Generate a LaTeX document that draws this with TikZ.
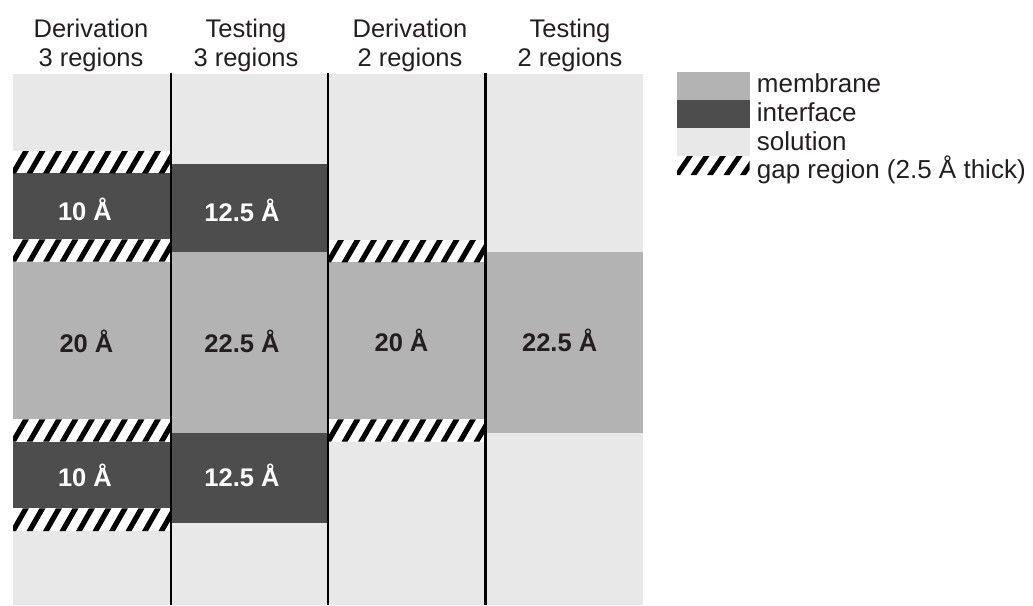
\documentclass[tikz,border=0pt]{standalone}
\usepackage{fontspec}
\setmainfont{Liberation Sans}
\definecolor{solution}{HTML}{E8E8E8}
\definecolor{membrane}{HTML}{B3B3B3}
\definecolor{interface}{HTML}{4D4D4D}
\definecolor{ink}{HTML}{231F20}

% striped band marking a 2.5 A gap: #1,#2 = top-left corner, #3,#4 = bottom-right corner
\newcommand\gapband[4]{%
  \begin{scope}
    \clip (#1,#2) rectangle (#3,#4);
    \fill[white] (#1,#2) rectangle (#3,#4);
    \foreach \k in {-1,...,11} {
      \fill[black] ({#1+10+16.5*\k},#2) -- ++(6,0) -- ({#1+10+16.5*\k-7},#4) -- ++(-6,0) -- cycle;
    }
  \end{scope}}

\tikzset{
  headtext/.style={anchor=base, inner sep=0pt, text=ink, font=\fontsize{25.5}{29}\selectfont},
  sizelight/.style={anchor=base, inner sep=0pt, text=white, font=\fontsize{25.5}{29}\selectfont\bfseries},
  sizedark/.style={anchor=base, inner sep=0pt, text=ink, font=\fontsize{25.5}{29}\selectfont\bfseries},
  legendtext/.style={anchor=base west, inner sep=0pt, text=ink, font=\fontsize{26}{29}\selectfont},
  divider/.style={draw=black, line width=2.3pt}
}

\begin{document}
\begin{tikzpicture}[x=1pt,y=-1pt]
\useasboundingbox (0,0) rectangle (1033,605);

% solution background of all four columns
\fill[solution] (13,74) rectangle (643,605);

% column 1: derivation, 3 regions
\fill[interface] (13,173.3) rectangle (170.7,239.3);
\fill[membrane]  (13,261.7) rectangle (170.7,419.3);
\fill[interface] (13,441.7) rectangle (170.7,508.3);
\gapband{13}{151}{170.7}{173.3}
\gapband{13}{239.3}{170.7}{261.7}
\gapband{13}{419.3}{170.7}{441.7}
\gapband{13}{508.3}{170.7}{531}

% column 2: testing, 3 regions
\fill[interface] (170.7,164) rectangle (328,252.3);
\fill[membrane]  (170.7,252.3) rectangle (328,432.7);
\fill[interface] (170.7,432.7) rectangle (328,523.3);

% column 3: derivation, 2 regions
\fill[membrane] (328,262) rectangle (485.5,419.3);
\gapband{328}{240}{485.5}{262.3}
\gapband{328}{419.3}{485.5}{441.7}

% column 4: testing, 2 regions
\fill[membrane] (485.5,252.3) rectangle (643,432.7);

% column dividers
\coordinate (d1t) at (170.7,72.7); \coordinate (d1b) at (170.7,605);
\coordinate (d2t) at (328,72.7);   \coordinate (d2b) at (328,605);
\coordinate (d3t) at (485.5,72.7); \coordinate (d3b) at (485.5,605);
\draw[divider] (d1t) -- (d1b);
\draw[divider] (d2t) -- (d2b);
\draw[divider] (d3t) -- (d3b);

% column headings
\node[headtext] (h1a) at (91,37.3)  {Derivation};
\node[headtext] (h1b) at (91,66.7)  {3 regions};
\node[headtext] (h2a) at (246,37.3) {Testing};
\node[headtext] (h2b) at (246,66.7) {3 regions};
\node[headtext] (h3a) at (410,37.3) {Derivation};
\node[headtext] (h3b) at (410,66.7) {2 regions};
\node[headtext] (h4a) at (570,37.3) {Testing};
\node[headtext] (h4b) at (570,66.7) {2 regions};

% region thicknesses
\node[sizelight] (c1top) at (85,220)   {10 Å};
\node[sizedark]  (c1mid) at (86.5,352) {20 Å};
\node[sizelight] (c1bot) at (85,486)   {10 Å};
\node[sizelight] (c2top) at (242,221.5) {12.5 Å};
\node[sizedark]  (c2mid) at (242,352)   {22.5 Å};
\node[sizelight] (c2bot) at (242,486)   {12.5 Å};
\node[sizedark]  (c3mid) at (401.5,351) {20 Å};
\node[sizedark]  (c4mid) at (559.7,351) {22.5 Å};

% legend
\fill[membrane]  (677,72) rectangle (749.5,99.5);
\fill[interface] (677,99.5) rectangle (749.5,128);
\fill[solution]  (677,128) rectangle (749.5,156);
\gapband{677}{156}{749.5}{175}
\node[legendtext] (lmem) at (756.7,92)    {membrane};
\node[legendtext] (lint) at (756.7,121.5) {interface};
\node[legendtext] (lsol) at (756.7,150)   {solution};
\node[legendtext] (lgap) at (756.7,178)   {gap region (2.5 Å thick)};
\end{tikzpicture}
\end{document}
